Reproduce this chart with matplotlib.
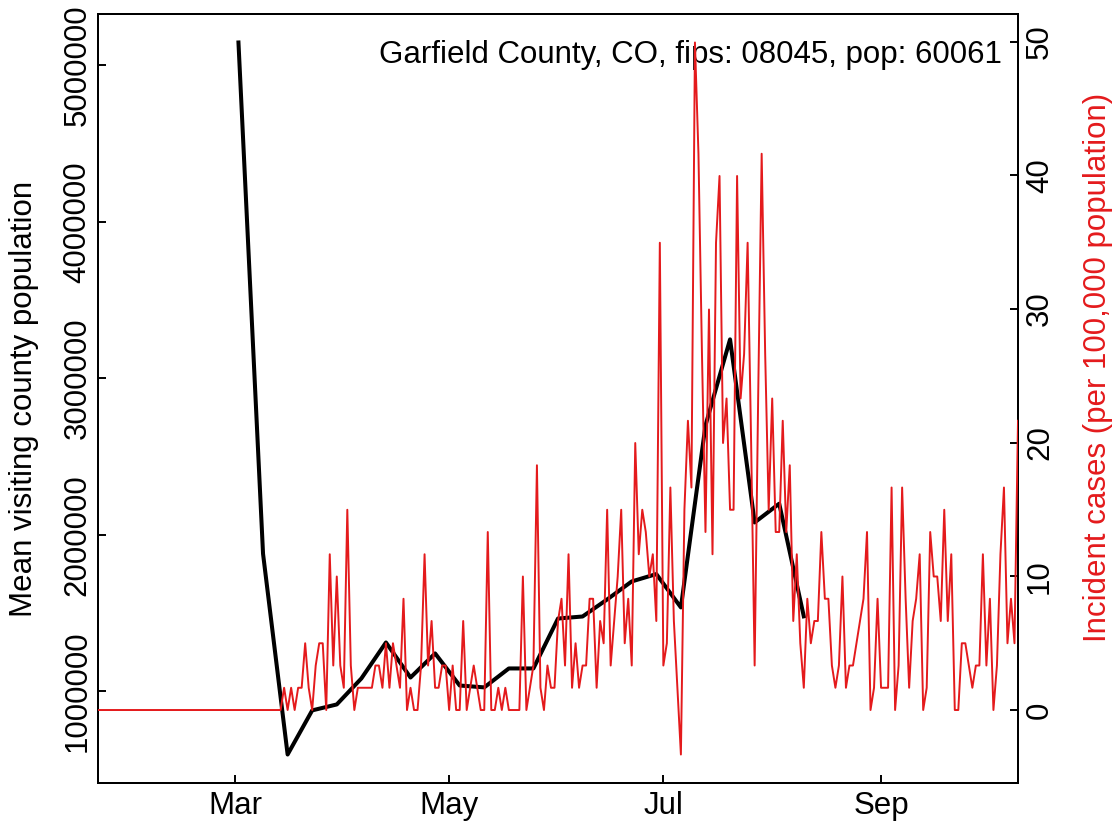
import numpy as np
import pandas as pd
import matplotlib
matplotlib.use("Agg")
import matplotlib.pyplot as plt

plt.rcParams['font.family'] = ['Liberation Sans', 'DejaVu Sans']

title_text = "Garfield County, CO, fips: 08045, pop: 60061"
population = 60061
left_label = "Mean visiting county population"
right_label = "Incident cases (per 100,000 population)"

# Weekly mean visiting population (black line), weeks starting 2020-03-02
visit_start = "2020-03-02"
visit_values = [5147000, 1880000, 597000, 879000, 917000, 1083000, 1313000,
                1089000, 1243000, 1038000, 1026000, 1147000, 1147000, 1466000,
                1479000, 1588000, 1703000, 1750000, 1537000, 2700000, 3250000,
                2080000, 2200000, 1480000]

# Daily incident case counts (red line), days starting 2020-01-22
case_start = "2020-01-22"
case_counts = [
    0, 0, 0, 0, 0, 0, 0, 0, 0, 0,
    0, 0, 0, 0, 0, 0, 0, 0, 0, 0,
    0, 0, 0, 0, 0, 0, 0, 0, 0, 0,
    0, 0, 0, 0, 0, 0, 0, 0, 0, 0,
    0, 0, 0, 0, 0, 0, 0, 0, 0, 0,
    0, 0,
    0, 1, 0, 1, 0, 1, 1, 3, 1, 0,
    2, 3, 3, 0, 7, 2, 6, 2, 1, 9,
    2, 0, 1, 1, 1, 1, 1, 2, 2, 1,
    3, 1, 3, 2, 1, 5, 0, 1, 0, 0,
    2, 7, 2, 4, 1, 1, 2, 2, 0, 2,
    0, 0, 4, 0, 1, 2, 1, 0, 0, 8,
    0, 0, 1, 0, 1, 0, 0, 0, 0, 6,
    0, 1, 2, 11, 1, 0, 2, 1, 1, 4,
    5, 2, 7, 1, 3, 1, 2, 2, 5, 5,
    1, 4, 3, 9, 2, 4, 6, 9, 3, 5,
    2, 12, 7, 9, 8, 6, 7, 4, 21, 2,
    3, 10, 4, 1, -2, 9, 13, 10, 30, 25,
    16, 8, 18, 7, 21, 24, 12, 14, 9, 9,
    24, 14, 16, 21, 12, 2, 14, 25, 16, 9,
    14, 8, 8, 13, 8, 11, 4, 7, 3, 1,
    5, 3, 4, 4, 8, 5, 5, 2, 1, 2,
    6, 1, 2, 2, 3, 4, 5, 8, 0, 1,
    5, 1, 1, 1, 10, 0, 2, 10, 5, 1,
    4, 5, 7, 0, 1, 8, 6, 6, 4, 9,
    4, 7, 0, 0, 3, 3, 2, 1, 2, 2,
    7, 2, 5, 0, 2, 7, 10, 3, 5, 3,
    13,
]

tick_dates = ["2020-03-01", "2020-05-01", "2020-07-01", "2020-09-01"]
tick_labels = ["Mar", "May", "Jul", "Sep"]
left_ticks = [1000000, 2000000, 3000000, 4000000, 5000000]
right_ticks = [0, 10, 20, 30, 40, 50]

visit_dates = pd.date_range(visit_start, periods=len(visit_values), freq="7D")
case_dates = pd.date_range(case_start, periods=len(case_counts), freq="D")
incidence = np.array(case_counts, dtype=float) * 100000.0 / population

W, H = 1119, 831
fig = plt.figure(figsize=(W / 100, H / 100), dpi=100)
L, R, T, B = 98, 1018, 14, 783
ax = fig.add_axes([L / W, 1 - B / H, (R - L) / W, (B - T) / H])
ax2 = ax.twinx()

red = "#E41A1C"

def rlim(vals):
    lo, hi = float(np.min(vals)), float(np.max(vals))
    r = hi - lo
    return lo - 0.04 * r, hi + 0.04 * r

ax.plot(visit_dates, visit_values, color="black", lw=2.9, zorder=2)
ax2.plot(case_dates, incidence, color=red, lw=1.4, zorder=3)

ax.set_ylim(*rlim(visit_values))
ax2.set_ylim(*rlim(incidence))
ax.set_xlim(case_dates[0], case_dates[-1])

fs = 22.5
ax.set_yticks(left_ticks)
ax.set_yticklabels([str(v) for v in left_ticks], rotation=90, va="center",
                   fontsize=fs)
ax2.set_yticks(right_ticks)
ax2.set_yticklabels([str(v) for v in right_ticks], rotation=90, va="center",
                    fontsize=fs)
ax.set_xticks(pd.to_datetime(tick_dates))
ax.set_xticklabels(tick_labels, fontsize=fs)

for a in (ax, ax2):
    a.tick_params(direction="in", length=6, width=1.4)
    for s in a.spines.values():
        s.set_linewidth(1.4)
ax.tick_params(axis="y", pad=4)
ax.tick_params(axis="x", pad=6)
ax2.tick_params(axis="y", pad=5)

ax.set_ylabel(left_label, fontsize=fs, va="center", ha="center")
ax.yaxis.set_label_coords((24 - L) / (R - L), 0.5)
ax2.set_ylabel(right_label, fontsize=fs, color=red, va="center", ha="center")
ax2.yaxis.set_label_coords((1098 - L) / (R - L), 0.54)

ax.text(0.983, 0.947, title_text, transform=ax.transAxes, ha="right",
        va="center", fontsize=fs)

fig.savefig("out.png", dpi=100)
